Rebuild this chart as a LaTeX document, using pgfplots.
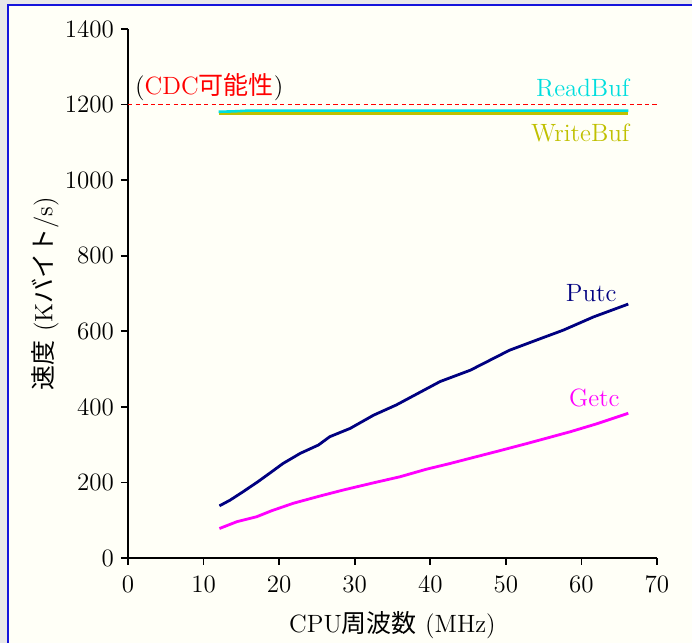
\documentclass[border=0pt]{standalone}
\usepackage{pgfplots}
\pgfplotsset{compat=1.18}
\usepackage{fontspec}
\newfontfamily\cjk{Noto Sans CJK JP}
\definecolor{cream}{RGB}{255,255,247}
\definecolor{outer}{RGB}{232,232,232}
\definecolor{framebl}{RGB}{20,20,220}
\definecolor{cyanl}{RGB}{0,222,222}
\definecolor{olivel}{RGB}{192,192,0}
\definecolor{navyl}{RGB}{0,0,128}
\definecolor{magl}{RGB}{255,0,255}
\begin{document}
\begin{tikzpicture}
\useasboundingbox (-64pt,-42.5pt) rectangle (282pt,279pt);
\begin{scope}
\clip (-64pt,-42.5pt) rectangle (282pt,279pt);
\fill[outer] (-64pt,-42.5pt) rectangle (282pt,279pt);
\filldraw[fill=cream, draw=framebl, line width=1pt] (-60pt,-60pt) rectangle (300pt,276.5pt);
\end{scope}
\begin{axis}[
  at={(0,0)}, anchor=south west,
  width=264.5pt, height=264.5pt, scale only axis,
  xmin=0, xmax=70, ymin=0, ymax=1400,
  axis lines=left, axis line style={-, line width=0.8pt},
  xtick={0,10,...,70}, ytick={0,200,...,1400},
  tick align=outside, major tick length=3.5pt,
  tick style={line width=0.8pt, black},
  /pgf/number format/1000 sep={},
  /pgf/number format/assume math mode=true,
  ticklabel style={font=\fontsize{12.5}{15}\selectfont},
  x tick label style={yshift=-2pt},
  label style={font=\fontsize{12.5}{15}\selectfont},
  xlabel={CPU{\cjk 周波数} (MHz)},
  ylabel={{\cjk 速度} (K{\cjk バイト}/s)},
  x label style={at={(axis description cs:0.5,-0.127)}, anchor=center},
  y label style={at={(axis description cs:-0.157,0.5)}, anchor=center, rotate=0},
  clip=false,
]
\addplot[red, line width=0.6pt, dash pattern=on 2.2pt off 1.6pt] coordinates {(0,1200) (70,1200)};
\addplot[olivel, line width=1.3pt] coordinates {(12,1176) (66.2,1176)};
\addplot[cyanl, line width=1.3pt] coordinates {(12,1181) (14,1182) (16,1184) (66.2,1184)};
\addplot[navyl, line width=1.4pt] coordinates {
(12.1,138) (13.5,153) (15.2,175) (17.2,202) (19.0,228) (20.5,250) (22.8,277)
(25.2,299) (26.7,321) (29.4,343) (32.5,378) (35.5,405) (38.4,436) (41.3,467)
(45.3,497) (50.5,550) (54.5,580) (57.6,603) (61.6,638) (66.2,672)};
\addplot[magl, line width=1.4pt] coordinates {
(12.1,78) (14.4,96) (17.0,109) (19.0,125) (21.9,145) (25.4,164) (28.5,180)
(32.5,199) (36.0,215) (39.5,235) (42.6,250) (45.3,264) (49.0,283) (52.8,303)
(58.5,334) (62,355) (66.2,383)};
\node[anchor=west, inner sep=0pt, font=\fontsize{12.5}{15}\selectfont] at (axis cs:0.9,1246) {(\textcolor{red}{CDC{\cjk 可能性}})};
\node[anchor=east, inner sep=0pt, text=cyanl, font=\fontsize{12.5}{15}\selectfont] at (axis cs:66.4,1244) {ReadBuf};
\node[anchor=east, inner sep=0pt, text=olivel, font=\fontsize{12.5}{15}\selectfont] at (axis cs:66.4,1125) {WriteBuf};
\node[anchor=east, inner sep=0pt, text=navyl, font=\fontsize{12.5}{15}\selectfont] at (axis cs:64.7,701) {Putc};
\node[anchor=east, inner sep=0pt, text=magl, font=\fontsize{12.5}{15}\selectfont] at (axis cs:65.1,423) {Getc};
\end{axis}
\end{tikzpicture}
\end{document}
